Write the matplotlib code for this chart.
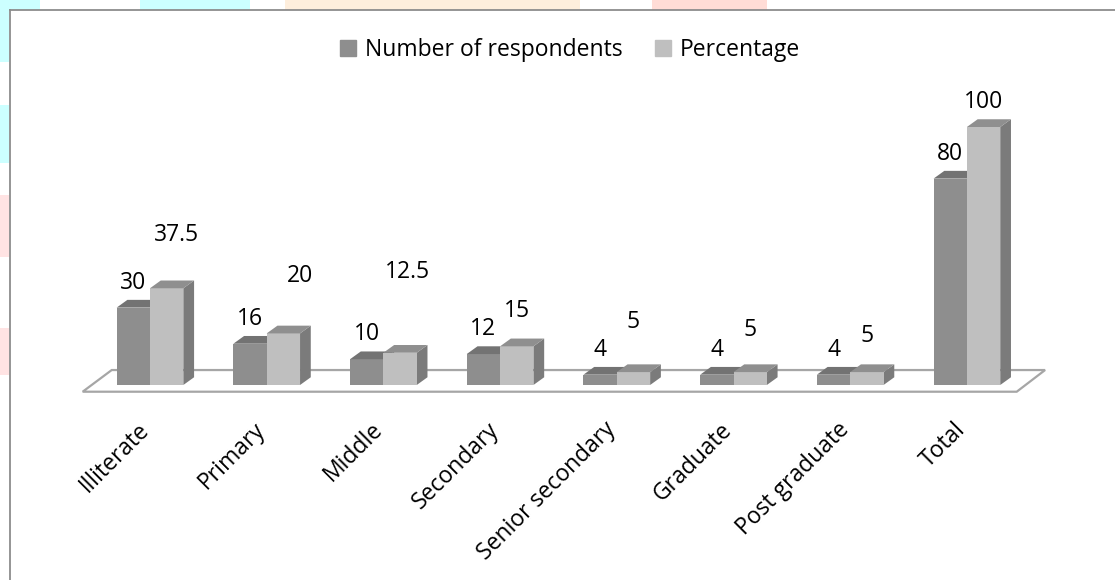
import matplotlib.pyplot as plt
from matplotlib.patches import Polygon, Rectangle
from matplotlib.lines import Line2D

# education level data
categories = ['Illiterate', 'Primary', 'Middle', 'Secondary', 'Senior secondary',
              'Graduate', 'Post graduate', 'Total']
respondents = [30, 16, 10, 12, 4, 4, 4, 80]
percentage = [37.5, 20, 12.5, 15, 5, 5, 5, 100]
series_names = ['Number of respondents', 'Percentage']

# excel puts the percentage labels a bit all over the place (pixels above bar top / sideways)
pct_label_lift = [53, 57, 81, 35, 50, 42, 36, 25]
pct_label_shift = [10, 17, 7, 0, 0, 0, 0, 0]

W, H = 1115, 580
FS = 16.5
plt.rcParams['font.family'] = ['Open Sans', 'DejaVu Sans']
fig = plt.figure(figsize=(W / 100, H / 100), dpi=100)
ax = fig.add_axes([0, 0, 1, 1])
# one category = 116.7 px, one unit = 2.58 px, group centre 0 at x=150, base at y=385
ax.set_xlim(-150 / 116.7, (W - 150) / 116.7)
ax.set_ylim((385 - H) / 2.58, 385 / 2.58)
ax.axis('off')

# faint watermark bits peeking out round the chart frame
for (x0, y0, w, h, c) in [(0, 0, 40, 10, '#ccffff'), (140, 0, 110, 10, '#ccffff'),
                          (285, 0, 295, 10, '#feeedc'), (652, 0, 115, 10, '#ffdcd6'),
                          (0, 0, 9, 62, '#ccffff'), (0, 105, 9, 58, '#ccffff'),
                          (0, 195, 9, 62, '#ffe3e3'), (0, 328, 9, 47, '#ffe3e3')]:
    fig.add_artist(Rectangle((x0 / W, 1 - (y0 + h) / H), w / W, h / H,
                             transform=fig.transFigure, color=c, lw=0, zorder=0))

# chart frame (only top and left visible)
fig.add_artist(Line2D([10 / W, 1], [1 - 10 / H, 1 - 10 / H], color='#8c8c8c', lw=1.3))
fig.add_artist(Line2D([10 / W, 10 / W], [0, 1 - 10 / H], color='#8c8c8c', lw=1.3))

# floor
floor = Polygon([(-0.577, -2.6), (7.427, -2.6), (7.67, 5.8), (-0.328, 5.8)],
                closed=True, facecolor='white', edgecolor='#a6a6a6', lw=1.6, zorder=1)
ax.add_patch(floor)

bw = 0.2857
dx, dy = 0.092, 3.0
x = list(range(len(categories)))

def bar3d(xs, vals, front, top, side):
    ax.bar(xs, vals, width=bw, align='edge', color=front, edgecolor='none', zorder=3)
    for xl, v in zip(xs, vals):
        ax.add_patch(Polygon([(xl, v), (xl + bw, v), (xl + bw + dx, v + dy), (xl + dx, v + dy)],
                             closed=True, facecolor=top, edgecolor='none', zorder=3))
        ax.add_patch(Polygon([(xl + bw, 0), (xl + bw + dx, dy), (xl + bw + dx, v + dy), (xl + bw, v)],
                             closed=True, facecolor=side, edgecolor='none', zorder=2))

dark_x = [i - bw for i in x]
light_x = [i for i in x]
bar3d(dark_x, respondents, '#8e8e8e', '#737373', '#7c7c7c')
bar3d(light_x, percentage, '#bfbfbf', '#8f8f8f', '#7b7b7b')

for i, v in enumerate(respondents):
    ax.annotate(str(v), (i - bw / 2, v), xytext=(0, 25), textcoords='offset pixels',
                ha='center', va='center', fontsize=FS, zorder=5)
for i, v in enumerate(percentage):
    lab = f'{v:g}'
    ax.annotate(lab, (i + bw / 2, v), xytext=(pct_label_shift[i], pct_label_lift[i]),
                textcoords='offset pixels', ha='center', va='center', fontsize=FS, zorder=5)

# category labels at 45 degrees
for i, c in enumerate(categories):
    ax.text(i - 0.04, -16, c, rotation=45, rotation_mode='anchor',
            ha='right', va='center', fontsize=FS)

# legend on top
ax.legend(handles=[Rectangle((0, 0), 1, 1, color='#8e8e8e'), Rectangle((0, 0), 1, 1, color='#bfbfbf')],
          labels=series_names, loc='center', bbox_to_anchor=(570 / W, 1 - 50 / H),
          ncol=2, frameon=False, fontsize=FS, handlelength=0.7, handleheight=0.7,
          handletextpad=0.4, columnspacing=1.4)

fig.savefig('out.png', dpi=100)
